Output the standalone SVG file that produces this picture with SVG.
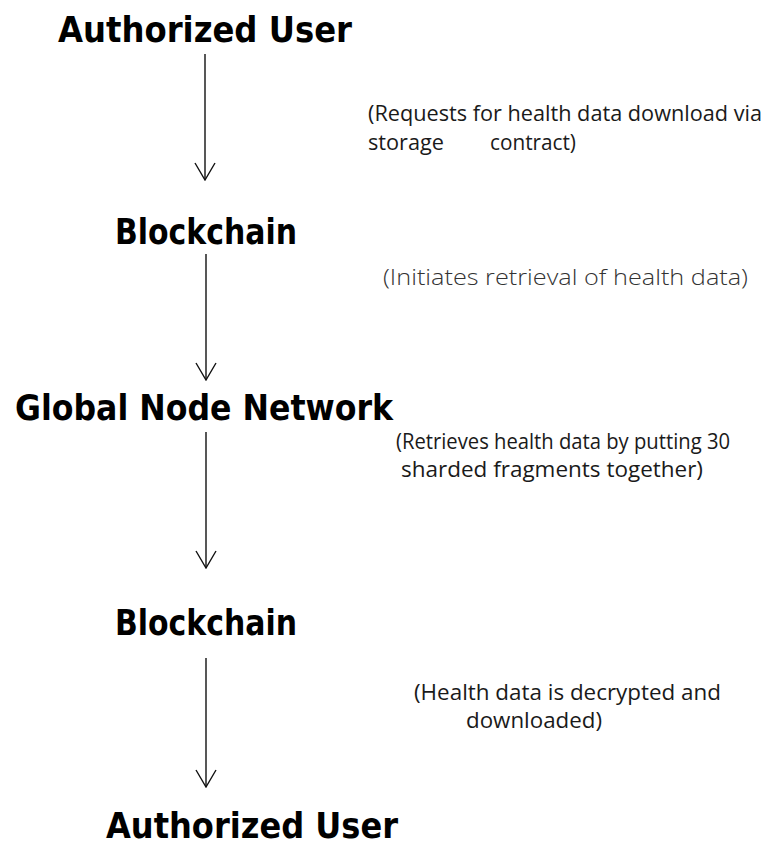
<svg xmlns="http://www.w3.org/2000/svg" width="767" height="850" viewBox="0 0 767 850">
  <style>
    .node { font-family: "Comic Sans MS", "DejaVu Sans", sans-serif; font-weight: bold; font-size: 36px; fill: #000; }
    .note { font-family: "Open Sans", "Noto Sans", "Liberation Sans", sans-serif; font-size: 22px; fill: #1a1a1a; }
    .note.light { font-weight: 300; fill: #333; }
    .wire { stroke: #111; stroke-width: 1.4; fill: none; }
  </style>
  <defs>
    <!-- open V head, drawn along +x so orient="auto" turns it with the line -->
    <marker id="vee" viewBox="-19 -11 20 22" markerWidth="20" markerHeight="22" refX="0" refY="0" orient="auto" markerUnits="userSpaceOnUse">
      <path d="M-17,-10 L0,0 L-17,10" fill="none" stroke="#111" stroke-width="1.4"/>
    </marker>
  </defs>
  <rect width="767" height="850" fill="#fff"/>

  <!-- flow steps -->
  <g id="user-start">
    <text class="node" x="58" y="42" textLength="294" lengthAdjust="spacingAndGlyphs">Authorized User</text>
  </g>
  <g id="chain-request">
    <text class="node" x="115" y="244" textLength="182" lengthAdjust="spacingAndGlyphs">Blockchain</text>
  </g>
  <g id="node-network">
    <text class="node" x="15" y="420" textLength="378" lengthAdjust="spacingAndGlyphs">Global Node Network</text>
  </g>
  <g id="chain-deliver">
    <text class="node" x="115" y="635" textLength="182" lengthAdjust="spacingAndGlyphs">Blockchain</text>
  </g>
  <g id="user-end">
    <text class="node" x="106" y="838" textLength="292" lengthAdjust="spacingAndGlyphs">Authorized User</text>
  </g>

  <!-- connectors -->
  <g id="connectors">
    <line class="wire" x1="205" y1="54" x2="205" y2="180" marker-end="url(#vee)"/>
    <line class="wire" x1="206" y1="254" x2="206" y2="380" marker-end="url(#vee)"/>
    <line class="wire" x1="206" y1="432" x2="206" y2="568" marker-end="url(#vee)"/>
    <line class="wire" x1="206" y1="658" x2="206" y2="787" marker-end="url(#vee)"/>
  </g>

  <!-- step notes -->
  <g id="notes">
    <text class="note" x="368" y="121" textLength="394" lengthAdjust="spacingAndGlyphs">(Requests for health data download via</text>
    <text class="note" x="368" y="150" textLength="76" lengthAdjust="spacingAndGlyphs">storage</text>
    <text class="note" x="490" y="150" textLength="86" lengthAdjust="spacingAndGlyphs">contract)</text>
    <text class="note light" x="383" y="285" textLength="365" lengthAdjust="spacingAndGlyphs">(Initiates retrieval of health data)</text>
    <text class="note" x="396" y="449" textLength="334" lengthAdjust="spacingAndGlyphs">(Retrieves health data by putting 30</text>
    <text class="note" x="401" y="477" textLength="302" lengthAdjust="spacingAndGlyphs">sharded fragments together)</text>
    <text class="note" x="414" y="700" textLength="307" lengthAdjust="spacingAndGlyphs">(Health data is decrypted and</text>
    <text class="note" x="466" y="728" textLength="136" lengthAdjust="spacingAndGlyphs">downloaded)</text>
  </g>
</svg>
